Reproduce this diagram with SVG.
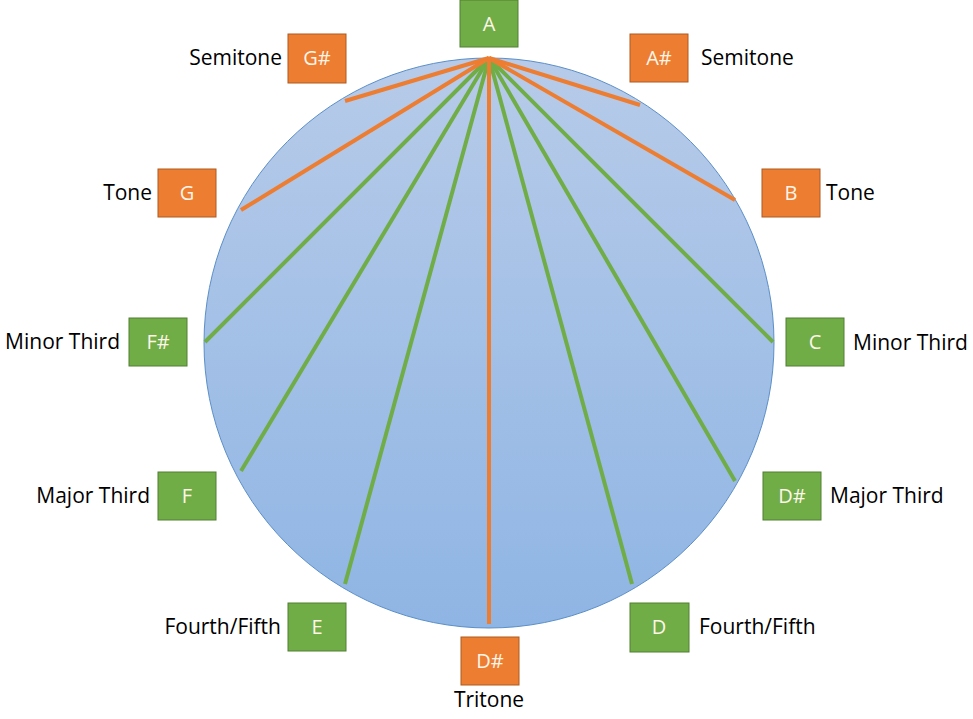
<svg xmlns="http://www.w3.org/2000/svg" width="973" height="719" viewBox="0 0 973 719">
<defs>
<linearGradient id="g" x1="0" y1="0" x2="0" y2="1">
<stop offset="0" stop-color="#b7cbe9"/>
<stop offset="1" stop-color="#8fb5e4"/>
</linearGradient>
<style>
.o{fill:#ed7d31;stroke:#ae5a21;stroke-width:1}
.gr{fill:#70ad47;stroke:#507e32;stroke-width:1}
.bt{font-family:"Open Sans","Liberation Sans",sans-serif;font-size:20px;fill:#fdf6e8;text-anchor:middle}
.lb{font-family:"Open Sans","Liberation Sans",sans-serif;font-size:21px;fill:#000}
.lo{stroke:#ed7d31;stroke-width:4;fill:none}
.lg{stroke:#70ad47;stroke-width:4;fill:none}
</style>
</defs>
<rect width="973" height="719" fill="#fff"/>
<g id="circle"><circle cx="489" cy="343" r="285" fill="url(#g)" stroke="#5b8fc7" stroke-width="1"/></g>
<g id="connectors">
<line class="lg" x1="489" y1="58" x2="241" y2="471"/>
<line class="lg" x1="489" y1="58" x2="735" y2="481"/>
<line class="lg" x1="489" y1="58" x2="345" y2="584"/>
<line class="lg" x1="489" y1="58" x2="632" y2="584"/>
<line class="lg" x1="489" y1="58" x2="205" y2="342"/>
<line class="lg" x1="489" y1="58" x2="773" y2="342"/>
<line class="lo" x1="489" y1="58" x2="345" y2="101"/>
<line class="lo" x1="489" y1="58" x2="640" y2="105"/>
<line class="lo" x1="489" y1="58" x2="241" y2="210"/>
<line class="lo" x1="489" y1="58" x2="735" y2="200"/>
<line class="lo" x1="489" y1="58" x2="489" y2="624"/>
</g>
<g id="A"><rect class="gr" x="460" y="0" width="58" height="47"/><text class="bt" x="489" y="31">A</text></g>
<g id="Gs"><rect class="o" x="288" y="34" width="58" height="49"/><text class="bt" x="317" y="65">G#</text><text class="lb" x="282" y="65" text-anchor="end">Semitone</text></g>
<g id="As"><rect class="o" x="630" y="34" width="58" height="48"/><text class="bt" x="659" y="65">A#</text><text class="lb" x="701" y="65">Semitone</text></g>
<g id="G"><rect class="o" x="158" y="169" width="58" height="48"/><text class="bt" x="187" y="200">G</text><text class="lb" x="152" y="200" text-anchor="end">Tone</text></g>
<g id="B"><rect class="o" x="762" y="169" width="58" height="48"/><text class="bt" x="791" y="200">B</text><text class="lb" x="826" y="200">Tone</text></g>
<g id="Fs"><rect class="gr" x="129" y="318" width="58" height="48"/><text class="bt" x="158" y="349">F#</text><text class="lb" x="120" y="349" text-anchor="end">Minor Third</text></g>
<g id="C"><rect class="gr" x="786" y="318" width="58" height="48"/><text class="bt" x="815" y="349">C</text><text class="lb" x="853" y="350">Minor Third</text></g>
<g id="F"><rect class="gr" x="158" y="472" width="58" height="48"/><text class="bt" x="187" y="503">F</text><text class="lb" x="150" y="503" text-anchor="end">Major Third</text></g>
<g id="Ds"><rect class="gr" x="763" y="472" width="58" height="48"/><text class="bt" x="792" y="503">D#</text><text class="lb" x="830" y="503">Major Third</text></g>
<g id="E"><rect class="gr" x="288" y="603" width="58" height="48"/><text class="bt" x="317" y="634">E</text><text class="lb" x="281" y="634" text-anchor="end">Fourth/Fifth</text></g>
<g id="D"><rect class="gr" x="630" y="603" width="59" height="49"/><text class="bt" x="659" y="634">D</text><text class="lb" x="699" y="634">Fourth/Fifth</text></g>
<g id="DsT"><rect class="o" x="461" y="637" width="58" height="48"/><text class="bt" x="490" y="668">D#</text><text class="lb" x="489" y="707" text-anchor="middle">Tritone</text></g>
</svg>
